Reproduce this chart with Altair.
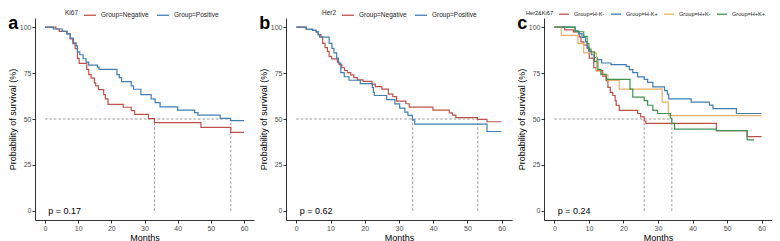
import altair as alt
import pandas as pd

FONT = "Liberation Sans"
RED, BLUE, YELLOW, GREEN = "#C0504A", "#3F7FB4", "#E6B066", "#3F9250"

# ---------------- Panel a: Ki67 ----------------
a_neg_t = [0, 3.3, 4.3, 6.7, 7.6, 8.4, 9.1, 9.8, 10.3, 12.6, 13.2, 13.9, 14.9, 15.3, 16.1, 17.7, 18.2, 19.0,
           23.6, 26.0, 27.0, 31.2, 33.0, 47.0, 56.0, 60.0]
a_neg_s = [100, 99, 97.7, 96.4, 93.6, 91.0, 88.3, 83.0, 80.3, 77.0, 74.2, 72.3, 69.7, 68.0, 66.0, 63.3, 61.0, 58.0,
           56.4, 54.6, 52.5, 50.2, 48.0, 45.4, 42.7, 42.7]
a_pos_t = [0, 2.5, 5.2, 6.5, 7.6, 8.6, 9.4, 9.8, 10.5, 11.5, 12.4, 13.2, 15.8, 16.3, 21.7, 22.4, 23.1, 26.0, 26.7,
           28.9, 32.0, 33.2, 34.7, 40.0, 45.1, 46.1, 52.8, 55.9, 60.0]
a_pos_s = [100, 99, 97.7, 96.4, 94.0, 91.5, 89.8, 86.5, 85.0, 82.8, 81.0, 79.3, 78.2, 77.0, 74.2, 72.5, 70.4, 68.0, 66.2,
           63.3, 61.0, 58.9, 56.6, 54.8, 53.5, 52.1, 50.3, 49.1, 49.1]
a_medians = [33, 56]

# ---------------- Panel b: Her2 ----------------
b_neg_t = [0, 2.9, 4.8, 5.8, 6.4, 7.2, 7.7, 8.4, 9.1, 9.6, 10.3, 12.0, 12.5, 13.3, 14.1, 14.9, 15.9, 16.8, 17.8,
           19.5, 22.1, 23.1, 25.0, 26.9, 28.2, 29.3, 32.0, 33.0, 39.9, 44.7, 45.6, 46.6, 52.9, 55.7, 59.9]
b_neg_s = [100, 98.8, 98.3, 97.4, 96.0, 94.8, 91.2, 88.9, 86.8, 84.1, 82.7, 81.0, 79.6, 77.9, 76.4, 75.2, 74.0, 72.5, 71.3,
           70.5, 69.0, 67.6, 66.3, 63.6, 62.2, 59.7, 58.3, 56.5, 54.8, 53.3, 52.1, 50.8, 49.8, 48.5, 48.5]
b_pos_t = [0, 2.9, 4.8, 5.8, 6.4, 6.8, 9.6, 10.4, 11.0, 11.8, 12.3, 13.0, 14.0, 15.4, 18.7, 22.2, 22.5, 22.8,
           26.4, 28.8, 30.2, 31.7, 32.6, 33.9, 34.6, 55.7, 59.9]
b_pos_s = [100, 98.8, 98.3, 97.4, 96.0, 94.6, 91.2, 88.5, 86.0, 83.2, 80.5, 75.2, 73.0, 71.1, 69.3, 67.2, 64.5, 62.8,
           60.5, 58.2, 55.9, 53.7, 52.0, 49.5, 47.2, 43.2, 43.2]
b_medians = [34, 53]

# ---------------- Panel c: Her2&Ki67 ----------------
c_hmkm_t = [0, 3.0, 5.5, 7.2, 7.7, 8.5, 9.5, 10.1, 11.4, 12.1, 14.0, 15.0, 15.5, 16.2, 16.9, 17.6, 17.9, 18.8,
            24.1, 25.0, 26.0, 26.5, 46.9, 55.8, 60.0]
c_hmkm_s = [100, 98.5, 97.4, 94.7, 92.0, 90.3, 88.5, 83.2, 77.9, 76.4, 73.4, 70.9, 67.2, 64.5, 62.8, 60.0, 57.4, 54.7,
            53.0, 51.2, 48.9, 47.6, 43.7, 40.4, 40.4]
c_hmkp_t = [0, 6.0, 7.0, 8.0, 9.0, 9.5, 10.0, 10.7, 11.5, 12.4, 13.7, 16.4, 20.8, 21.7, 22.7, 24.1, 26.0, 27.0, 28.5,
            31.9, 32.7, 33.1, 39.6, 44.9, 45.9, 52.7, 60.0]
c_hmkp_s = [100, 98.0, 96.5, 94.5, 92.0, 89.0, 87.0, 85.0, 83.5, 82.3, 80.5, 79.6, 78.7, 76.9, 75.2, 72.9, 71.6, 69.9, 67.5,
            65.4, 63.6, 61.0, 59.2, 57.6, 55.6, 53.0, 53.0]
c_hpkm_t = [0, 2.0, 6.8, 8.5, 12.2, 13.5, 15.5, 18.8, 31.2, 33.0, 60.0]
c_hpkm_s = [100, 95.5, 91.0, 86.0, 76.0, 74.0, 71.0, 66.3, 59.2, 51.8, 51.8]
c_hpkp_t = [0, 6.0, 8.5, 9.5, 10.0, 10.6, 11.6, 12.6, 13.5, 15.0, 21.9, 22.7, 26.0, 27.0, 28.5, 29.9, 33.6, 34.0,
            34.8, 46.9, 55.8, 57.8]
c_hpkp_s = [100, 97.5, 95.0, 91.0, 88.0, 86.6, 81.4, 77.0, 74.3, 71.6, 66.3, 61.9, 60.0, 57.5, 54.7, 53.0, 50.4, 47.6,
            44.5, 43.7, 38.6, 38.6]
c_medians = [26, 34]

x_ticks = [0, 10, 20, 30, 40, 50, 60]
y_ticks = [0, 25, 50, 75, 100]


def xenc(field="t"):
    return alt.X(f"{field}:Q", scale=alt.Scale(domain=[-3, 63], nice=False, zero=False),
                 axis=alt.Axis(values=x_ticks, title="Months"))


def yenc(field="s"):
    return alt.Y(f"{field}:Q", scale=alt.Scale(domain=[-5, 105], nice=False, zero=False),
                 axis=alt.Axis(values=y_ticks, title="Probability of survival (%)"))


def panel(letter, legend_title, names, times, survs, colors, medians, pval, width, legend_x, lab_size, sym,
          colpad):
    frames = [pd.DataFrame({"t": t, "s": s, "group": n}) for n, t, s in zip(names, times, survs)]
    curves = pd.concat(frames, ignore_index=True)
    hline = pd.DataFrame({"t": [0], "t2": [max(medians)], "s": [50]})
    vlines = pd.DataFrame({"t": medians, "s": [0] * len(medians), "s2": [50] * len(medians)})
    ptxt = pd.DataFrame({"t": [1], "s": [0], "label": [f"p = {pval}"]})

    dash = dict(color="#8C8C8C", strokeDash=[2.5, 2], strokeWidth=0.9)
    h = alt.Chart(hline).mark_rule(**dash).encode(x=xenc(), x2="t2", y=yenc())
    v = alt.Chart(vlines).mark_rule(**dash).encode(x=xenc(), y=yenc(), y2="s2")
    lines = alt.Chart(curves).mark_line(interpolate="step-after", strokeWidth=1.2).encode(
        x=xenc(), y=yenc(),
        color=alt.Color("group:N", sort=names,
                        scale=alt.Scale(domain=names, range=colors),
                        legend=alt.Legend(title=legend_title, orient="none", legendX=legend_x, legendY=-10,
                                          direction="horizontal", titleOrient="left", symbolType="stroke",
                                          symbolSize=sym, symbolStrokeWidth=1.3, labelFontSize=lab_size,
                                          titleFontSize=lab_size, titleFontWeight="normal", labelFont=FONT,
                                          titleFont=FONT, columnPadding=colpad, labelOffset=4, titlePadding=4,
                                          labelColor="#222222", titleColor="#222222")),
        order=alt.Order("t:Q"))
    txt = alt.Chart(ptxt).mark_text(align="left", baseline="middle", fontSize=9, font=FONT,
                                    color="black").encode(x=xenc(), y=yenc(), text="label:N")
    return alt.layer(h, v, lines, txt).properties(
        width=width, height=202,
        title=alt.TitleParams(letter, anchor="start", fontSize=18, fontWeight="bold", font=FONT,
                              color="black", offset=-25))


pa = panel("a", "Ki67", ["Group=Negative", "Group=Positive"], [a_neg_t, a_pos_t], [a_neg_s, a_pos_s],
           [RED, BLUE], a_medians, "0.17", 219, 30, 6.5, 144, 5)
pb = panel("b", "Her2", ["Group=Negative", "Group=Positive"], [b_neg_t, b_pos_t], [b_neg_s, b_pos_s],
           [RED, BLUE], b_medians, "0.62", 226, 36, 6.5, 144, 5)
pc = panel("c", "Her2&Ki67", ["Group=H-K-", "Group=H-K+", "Group=H+K-", "Group=H+K+"],
           [c_hmkm_t, c_hmkp_t, c_hpkm_t, c_hpkp_t], [c_hmkm_s, c_hmkp_s, c_hpkm_s, c_hpkp_s],
           [RED, BLUE, YELLOW, GREEN], c_medians, "0.24", 228, -18, 5.6, 100, 3)

chart = alt.hconcat(pa, pb, pc, spacing=5).resolve_scale(color="independent").resolve_legend(
    color="independent").properties(padding={"left": 0, "top": 0, "right": 0, "bottom": 0}).configure_axis(
    labelFont=FONT, titleFont=FONT, labelFontSize=7, titleFontSize=9, titleFontWeight="normal",
    labelColor="#4D4D4D", titleColor="black", domainColor="black", tickColor="black",
    domainWidth=0.8, tickWidth=0.8, tickSize=3, labelPadding=1, titlePadding=2, grid=False
).configure_view(strokeWidth=0)

chart.save("out.html", embed_options={"renderer": "svg", "actions": False})
